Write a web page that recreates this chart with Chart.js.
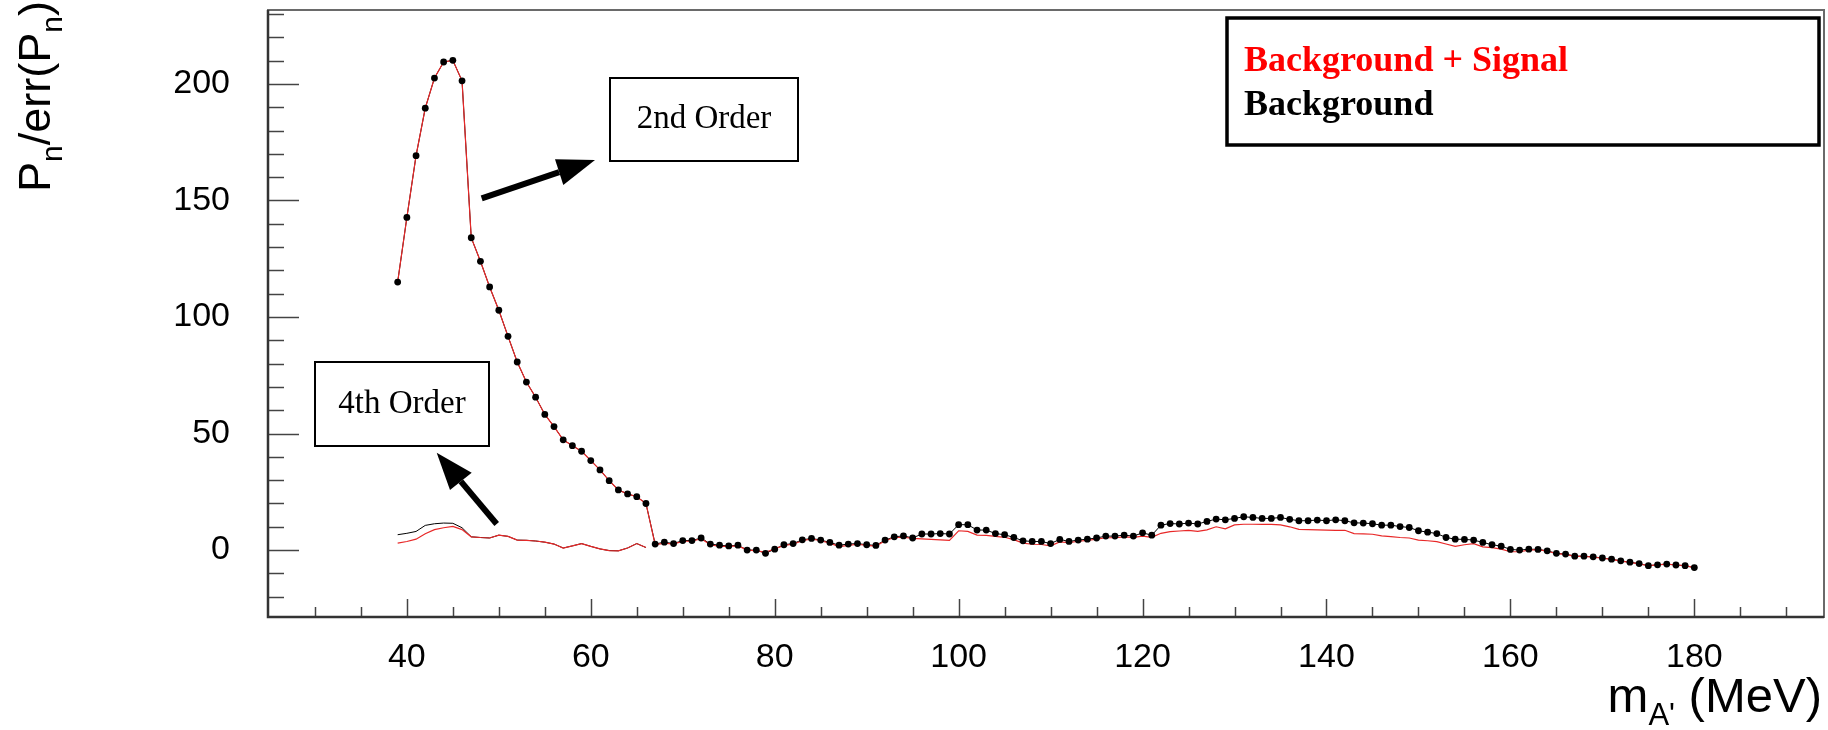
<!DOCTYPE html>
<html><head><meta charset="utf-8">
<script src="https://cdn.jsdelivr.net/npm/chart.js@4/dist/chart.umd.min.js"></script>
<style>html,body{margin:0;padding:0;background:#fff;overflow:hidden}#wrap{width:1828px;height:730px;position:relative}</style>
</head><body><div id="wrap"><canvas id="c" width="1828" height="730"></canvas></div>
<script>
// ---- data (m_A' in MeV) ----
const masses = [39,40,41,42,43,44,45,46,47,48,49,50,51,52,53,54,55,56,57,58,59,60,61,62,63,64,65,66,67,68,69,70,71,72,73,74,75,76,77,78,79,80,81,82,83,84,85,86,87,88,89,90,91,92,93,94,95,96,97,98,99,100,101,102,103,104,105,106,107,108,109,110,111,112,113,114,115,116,117,118,119,120,121,122,123,124,125,126,127,128,129,130,131,132,133,134,135,136,137,138,139,140,141,142,143,144,145,146,147,148,149,150,151,152,153,154,155,156,157,158,159,160,161,162,163,164,165,166,167,168,169,170,171,172,173,174,175,176,177,178,179,180];
const backgroundValues = [115.0,142.7,169.2,189.6,202.5,209.4,210.1,201.3,134.0,123.9,112.9,102.9,91.7,80.7,72.1,65.6,58.2,53.0,47.3,44.8,42.4,38.4,34.4,29.8,25.8,24.1,22.9,20.0,
 2.6,3.4,2.8,4.1,4.1,5.2,2.6,2.1,1.8,2.1,0.0,0.0,-1.4,0.4,2.3,2.8,4.4,5.0,4.3,3.3,2.1,2.6,2.8,2.3,2.0,4.3,5.7,6.1,5.2,6.9,6.9,7.1,6.9,
 10.9,10.9,8.6,8.6,7.1,6.6,5.4,4.0,3.7,3.7,2.8,4.6,3.7,4.3,4.7,5.2,6.0,6.0,6.4,6.0,7.4,6.4,10.7,11.4,11.2,11.6,11.2,12.3,13.3,13.0,13.6,14.3,
 14.0,13.6,13.6,14.0,13.2,12.6,12.6,12.9,12.6,13.0,12.6,11.7,11.6,11.3,10.7,10.7,10.1,9.7,8.3,7.7,7.1,5.4,4.7,4.6,4.3,3.3,2.3,1.7,0.3,0.0,0.4,0.3,
 -0.3,-1.4,-1.7,-2.6,-2.6,-2.9,-3.4,-3.9,-4.6,-5.2,-5.8,-6.7,-6.3,-6.0,-6.4,-6.7,-7.5];
const signalValues = [115.0,142.7,169.2,189.6,202.5,209.4,210.1,201.3,134.0,123.9,112.9,102.9,91.7,80.7,72.1,65.6,58.2,53.0,47.3,44.8,42.4,38.4,34.4,29.8,25.8,24.1,22.9,20.0,
 2.3,3.0,2.6,3.8,3.8,4.9,2.3,1.6,1.6,1.8,0.1,-0.3,-0.9,0.5,2.0,2.5,4.0,4.8,4.0,3.0,1.5,2.0,2.5,2.0,1.7,4.0,5.4,5.5,5.0,4.8,4.6,4.4,4.2,
 8.3,8.0,6.4,6.3,5.9,5.5,4.5,3.0,2.5,2.4,1.8,3.5,3.2,3.8,4.2,4.7,5.3,5.3,5.7,5.5,6.0,5.5,7.2,7.9,8.2,8.5,8.0,8.7,10.0,9.1,10.8,11.1,
 11.1,11.0,11.0,10.8,10.0,8.9,8.8,8.7,8.6,8.5,8.5,7.1,7.0,6.8,6.1,5.8,5.4,5.2,4.3,4.0,3.6,2.6,1.6,2.3,2.8,1.4,1.1,0.4,-0.7,-0.7,0.0,0.2,
 -0.4,-1.5,-1.8,-2.7,-2.7,-3.0,-3.5,-4.0,-4.7,-5.3,-5.9,-6.7,-6.3,-6.0,-6.4,-6.7,-7.5];
const masses4th = [39,40,41,42,43,44,45,46,47,48,49,50,51,52,53,54,55,56,57,58,59,60,61,62,63,64,65,66];
const background4thValues = [6.6,7.2,8.0,10.6,11.3,11.6,11.5,9.6,5.7,5.4,5.2,6.4,5.9,4.3,4.2,3.9,3.4,2.6,0.9,1.8,2.8,1.6,0.5,-0.2,-0.3,0.9,2.8,1.1];
const signal4thValues = [3.0,3.7,4.7,7.0,8.8,9.6,10.2,8.8,5.7,5.4,5.2,6.4,5.9,4.3,4.2,3.9,3.4,2.6,0.9,1.8,2.8,1.6,0.5,-0.2,-0.3,0.9,2.8,1.1];
const xTickLabels = [40,60,80,100,120,140,160,180];
const yTickLabels = [0,50,100,150,200];
const legendLabels = ['Background + Signal','Background'];
const annotationLabels = ['2nd Order','4th Order'];

const pts = (xs, ys) => xs.map((x, i) => ({x: x, y: ys[i]}));
const RED = 'rgb(232,40,40)';

const deco = {
  id: 'deco',
  beforeDatasetsDraw(chart) {
    const ctx = chart.ctx, ca = chart.chartArea, xs = chart.scales.x, ys = chart.scales.y;
    ctx.save();
    ctx.strokeStyle = '#6a6a6a'; ctx.lineWidth = 2;
    ctx.strokeRect(ca.left, ca.top, ca.right - ca.left, ca.bottom - ca.top);
    ctx.strokeStyle = '#444'; ctx.lineWidth = 1.5;
    for (let v = 30; v <= 190; v += 5) {
      const p = Math.round(xs.getPixelForValue(v)) + 0.5;
      const len = (v % 20 === 0) ? 18 : 10;
      ctx.beginPath(); ctx.moveTo(p, ca.bottom); ctx.lineTo(p, ca.bottom - len); ctx.stroke();
    }
    for (let v = -20; v <= 230; v += 10) {
      const p = Math.round(ys.getPixelForValue(v)) + 0.5;
      const len = (v % 50 === 0) ? 31 : 16;
      ctx.beginPath(); ctx.moveTo(ca.left, p); ctx.lineTo(ca.left + len, p); ctx.stroke();
    }
    ctx.strokeStyle = '#333'; ctx.lineWidth = 2.5;
    ctx.beginPath(); ctx.moveTo(ca.left, ca.top); ctx.lineTo(ca.left, ca.bottom); ctx.lineTo(ca.right, ca.bottom); ctx.stroke();
    ctx.restore();
  },
  afterDraw(chart) {
    const ctx = chart.ctx;
    ctx.save();
    ctx.fillStyle = '#000';
    // y title, rotated
    ctx.save();
    ctx.translate(50, 192);
    ctx.rotate(-Math.PI / 2);
    ctx.textBaseline = 'alphabetic'; ctx.textAlign = 'left';
    const big = '45px "Liberation Sans"', small = '30px "Liberation Sans"';
    let x = 0;
    const seg = (t, f, dy) => { ctx.font = f; ctx.fillText(t, x, dy); x += ctx.measureText(t).width; };
    seg('P', big, 0); seg('n', small, 12); seg('/err(P', big, 0); seg('n', small, 12); seg(')', big, 0);
    ctx.restore();
    // x title, right aligned
    ctx.save();
    const xb = '49px "Liberation Sans"', xs2 = '31px "Liberation Sans"';
    const parts = [['m', xb, 0], ["A'", xs2, 13], [' (MeV)', xb, 0]];
    let tw = 0; parts.forEach(p => { ctx.font = p[1]; tw += ctx.measureText(p[0]).width; });
    x = 1822 - tw;
    parts.forEach(p => { ctx.font = p[1]; ctx.fillText(p[0], x, 712 + p[2]); x += ctx.measureText(p[0]).width; });
    ctx.restore();

    // legend box
    ctx.lineWidth = 3.5; ctx.strokeStyle = '#000'; ctx.fillStyle = '#fff';
    ctx.fillRect(1227, 18, 592, 127); ctx.strokeRect(1227, 18, 592, 127);
    ctx.font = 'bold 36px "Liberation Serif"'; ctx.textAlign = 'left'; ctx.textBaseline = 'alphabetic';
    ctx.fillStyle = '#ff0000'; ctx.fillText(legendLabels[0], 1244, 71);
    ctx.fillStyle = '#000'; ctx.fillText(legendLabels[1], 1244, 115);

    // annotation boxes
    ctx.lineWidth = 2; ctx.strokeStyle = '#000';
    ctx.font = '33px "Liberation Serif"'; ctx.textAlign = 'center';
    ctx.fillStyle = '#fff'; ctx.fillRect(610, 78, 188, 83); ctx.strokeRect(610, 78, 188, 83);
    ctx.fillStyle = '#000'; ctx.fillText(annotationLabels[0], 704, 128);
    ctx.fillStyle = '#fff'; ctx.fillRect(315, 362, 174, 84); ctx.strokeRect(315, 362, 174, 84);
    ctx.fillStyle = '#000'; ctx.fillText(annotationLabels[1], 402, 413);

    const arrow = (tx, ty, hx, hy, c1x, c1y, c2x, c2y) => {
      ctx.strokeStyle = '#000'; ctx.lineWidth = 6; ctx.lineCap = 'butt';
      ctx.beginPath(); ctx.moveTo(tx, ty); ctx.lineTo((c1x + c2x) / 2, (c1y + c2y) / 2); ctx.stroke();
      ctx.fillStyle = '#000';
      ctx.beginPath(); ctx.moveTo(hx, hy); ctx.lineTo(c1x, c1y); ctx.lineTo(c2x, c2y); ctx.closePath(); ctx.fill();
    };
    arrow(481.7, 198.3, 595, 160, 555, 159.3, 563.3, 185);
    arrow(496.7, 524, 436.7, 452.7, 450, 490, 471.7, 472.7);
    ctx.restore();
  }
};

new Chart(document.getElementById('c'), {
  type: 'line',
  data: {
    datasets: [
      { label: 'Background markers', data: pts(masses, backgroundValues), showLine: false,
        pointRadius: 3.4, pointBackgroundColor: '#000', pointBorderColor: '#000', pointBorderWidth: 0, order: 0 },
      { label: 'Background + Signal', data: pts(masses, signalValues), borderColor: RED, borderWidth: 1.2,
        pointRadius: 0, tension: 0, order: 1 },
      { label: 'Background + Signal 4th', data: pts(masses4th, signal4thValues), borderColor: RED, borderWidth: 1.2,
        pointRadius: 0, tension: 0, order: 2 },
      { label: 'Background', data: pts(masses, backgroundValues), borderColor: '#000', borderWidth: 1,
        pointRadius: 0, tension: 0, order: 3 },
      { label: 'Background 4th', data: pts(masses4th, background4thValues), borderColor: '#000', borderWidth: 1,
        pointRadius: 0, tension: 0, order: 4 }
    ]
  },
  options: {
    responsive: false, animation: false, devicePixelRatio: 1,
    layout: { padding: { left: 0, right: 3, top: 10, bottom: 0 } },
    plugins: { legend: { display: false }, tooltip: { enabled: false } },
    scales: {
      x: {
        type: 'linear', min: 24.9, max: 194.1,
        grid: { display: false }, border: { display: false },
        ticks: { font: { family: 'Liberation Sans', size: 34 }, color: '#000', padding: 12, maxRotation: 0, autoSkip: false },
        afterBuildTicks: s => { s.ticks = xTickLabels.map(v => ({ value: v })); },
        afterFit: s => { s.height = 113; s.paddingLeft = 0; s.paddingRight = 0; }
      },
      y: {
        type: 'linear', min: -28.7, max: 231.7,
        grid: { display: false }, border: { display: false },
        ticks: { font: { family: 'Liberation Sans', size: 34 }, color: '#000', padding: 30, autoSkip: false },
        afterBuildTicks: s => { s.ticks = yTickLabels.map(v => ({ value: v })); },
        afterFit: s => { s.width = 268; s.paddingTop = 0; s.paddingBottom = 0; }
      }
    }
  },
  plugins: [deco]
});
</script></body></html>
